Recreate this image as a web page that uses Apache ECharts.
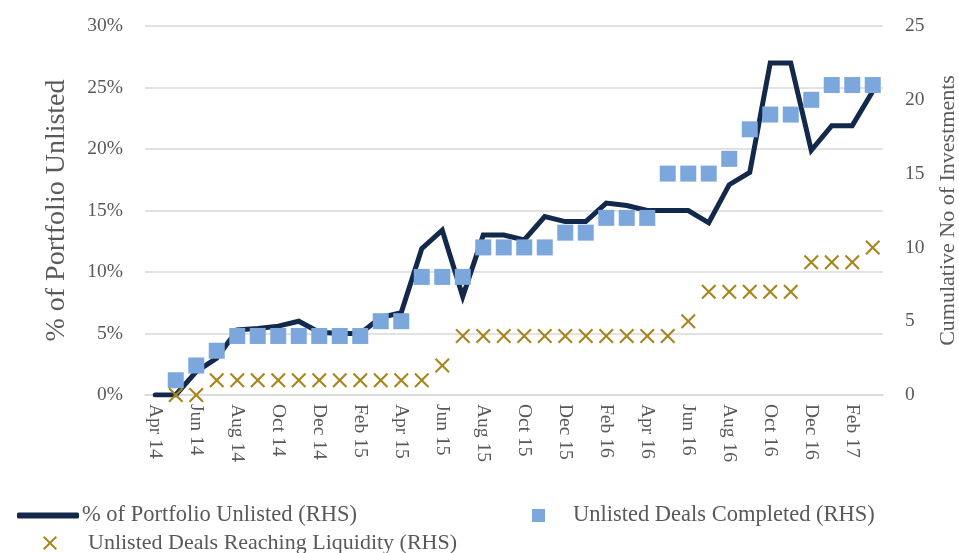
<!DOCTYPE html>
<html><head><meta charset="utf-8">
<script src="https://cdn.jsdelivr.net/npm/echarts@6/dist/echarts.min.js"></script>
<style>html,body{margin:0;padding:0;background:#fff}#c{width:959px;height:553px}</style>
</head><body><div id="c"></div>
<script>
const categories = ['Apr 14','May 14','Jun 14','Jul 14','Aug 14','Sep 14','Oct 14','Nov 14','Dec 14','Jan 15','Feb 15','Mar 15',
 'Apr 15','May 15','Jun 15','Jul 15','Aug 15','Sep 15','Oct 15','Nov 15','Dec 15','Jan 16','Feb 16','Mar 16',
 'Apr 16','May 16','Jun 16','Jul 16','Aug 16','Sep 16','Oct 16','Nov 16','Dec 16','Jan 17','Feb 17','Mar 17'];
const pctUnlisted = [0,0,1.9,3.0,5.3,5.4,5.6,6.0,5.1,5.0,5.0,6.3,
 6.7,11.9,13.4,8.0,13.0,13.0,12.6,14.5,14.1,14.1,15.6,15.4,
 15.0,15.0,15.0,14.0,17.1,18.1,27.0,27.0,19.9,21.9,21.9,24.7];
const dealsCompleted = [null,1,2,3,4,4,4,4,4,4,4,5,
 5,8,8,8,10,10,10,10,11,11,12,12,
 12,15,15,15,16,18,19,19,20,21,21,21];
const dealsLiquidity = [null,0,0,1,1,1,1,1,1,1,1,1,
 1,1,2,4,4,4,4,4,4,4,4,4,
 4,4,5,7,7,7,7,7,9,9,9,10];
const leftTicks = {min:0,max:30,interval:5};
const rightTicks = {min:0,max:25,interval:5};

const FONT = 'Liberation Serif';
const TXT = '#595959';
const crossPath = 'path://M0,1 L1,0 L5,4 L9,0 L10,1 L6,5 L10,9 L9,10 L5,6 L1,10 L0,9 L4,5 Z';
const names = ['% of Portfolio Unlisted (RHS)','Unlisted Deals Completed (RHS)','Unlisted Deals Reaching Liquidity (RHS)'];
const chart = echarts.init(document.getElementById('c'));
const legendText = {color:TXT,fontSize:22.5,fontFamily:FONT};
chart.setOption({
  animation:false,
  grid:{left:145,right:76,top:26,bottom:158,containLabel:false,outerBoundsMode:'none'},
  legend:[
    {data:[{name:names[0],icon:'roundRect'}],left:17,top:504,itemWidth:62,itemHeight:6,itemGap:0,textStyle:Object.assign({},legendText,{padding:[0,0,0,-2]}),padding:0},
    {data:[{name:names[1],icon:'rect'}],left:532,top:504,itemWidth:13,itemHeight:13,itemGap:0,textStyle:Object.assign({},legendText,{padding:[0,0,0,23]}),padding:0},
    {data:[{name:names[2],icon:crossPath}],left:43,top:532,itemWidth:14,itemHeight:14,itemGap:0,textStyle:Object.assign({},legendText,{fontSize:22,padding:[0,0,0,26]}),padding:0}
  ],
  xAxis:{type:'category',data:categories,boundaryGap:true,
    axisLine:{lineStyle:{color:'#d9d9d9',width:1.5}},
    axisTick:{interval:1,length:7,lineStyle:{color:'#d9d9d9',width:1.5}},
    axisLabel:{interval:1,rotate:-90,margin:9,color:TXT,fontSize:19.5,fontFamily:FONT}},
  yAxis:[
    {type:'value',min:leftTicks.min,max:leftTicks.max,interval:leftTicks.interval,
     name:'% of Portfolio Unlisted',nameLocation:'middle',nameGap:74,nameRotate:90,
     nameTextStyle:{color:TXT,fontSize:28,fontFamily:FONT},
     axisLabel:{formatter:'{value}%',color:TXT,fontSize:19.5,fontFamily:FONT,margin:22},
     axisLine:{show:false},axisTick:{show:false},
     splitLine:{lineStyle:{color:'#d9d9d9',width:1.5}}},
    {type:'value',min:rightTicks.min,max:rightTicks.max,interval:rightTicks.interval,
     name:'Cumulative No of Investments',nameLocation:'middle',nameGap:54,nameRotate:90,
     nameTextStyle:{color:TXT,fontSize:22,fontFamily:FONT},
     axisLabel:{color:TXT,fontSize:19.5,fontFamily:FONT,margin:22},
     axisLine:{show:false},axisTick:{show:false},splitLine:{show:false}}
  ],
  series:[
    {name:names[0],type:'line',data:pctUnlisted,yAxisIndex:0,symbol:'none',z:2,
     lineStyle:{color:'#13294b',width:5,cap:'round',join:'miter'},itemStyle:{color:'#13294b'}},
    {name:names[1],type:'scatter',data:dealsCompleted,yAxisIndex:1,symbol:'rect',symbolSize:16,z:3,
     itemStyle:{color:'#7ba7dd',opacity:1}},
    {name:names[2],type:'scatter',data:dealsLiquidity,yAxisIndex:1,symbol:crossPath,symbolSize:15,z:4,
     itemStyle:{color:'#a8861c',opacity:1}}
  ]
});
</script></body></html>
